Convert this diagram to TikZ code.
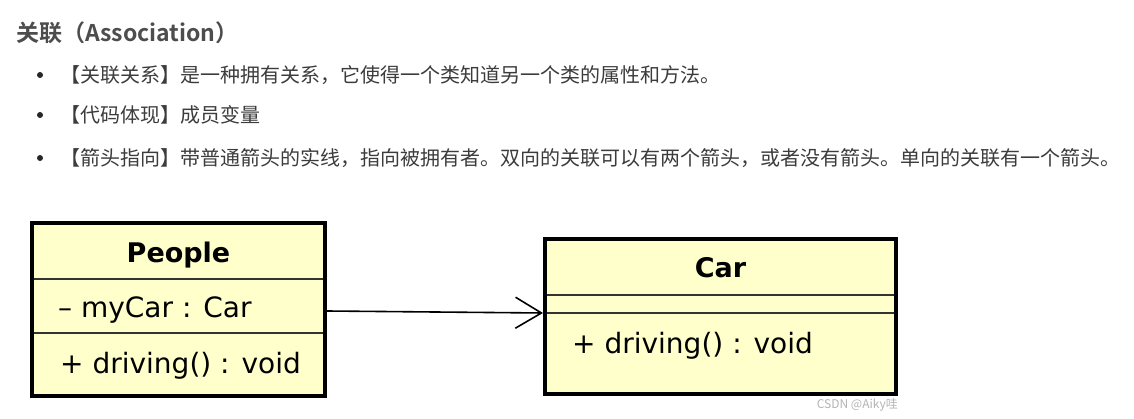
\documentclass[tikz,border=0pt]{standalone}
\usepackage{fontspec}
\usetikzlibrary{arrows.meta}
\newfontfamily\cjk{Noto Sans CJK SC}[BoldFont={Noto Sans CJK SC Bold}]
\newfontfamily\umlfont{DejaVu Sans}
\definecolor{umlfill}{RGB}{255,255,204}
\definecolor{txtgray}{RGB}{60,60,60}
\definecolor{hdrgray}{RGB}{77,77,77}
\definecolor{wmgray}{RGB}{180,180,180}
\tikzset{
  umlbox/.style={draw=black, line width=4pt, fill=umlfill, inner sep=0pt},
  divider/.style={draw=black!80, line width=1.5pt},
  umltext/.style={font=\umlfont\fontsize{28}{32}\selectfont, inner sep=0pt},
  umltitle/.style={font=\umlfont\bfseries\fontsize{27}{32}\selectfont, inner sep=0pt},
  bodytext/.style={font=\cjk\fontsize{20}{24}\selectfont, text=txtgray, inner sep=0pt, anchor=west},
  bulletdot/.style={circle, fill=black!85, inner sep=0pt, minimum size=6pt},
  assoc/.style={draw=black, line width=1.6pt, -{Straight Barb[length=26pt,width=31pt,line width=1.6pt]}}
}
\begin{document}
\begin{tikzpicture}[x=1pt,y=-1pt]
\useasboundingbox[fill=white] (0,0) rectangle (1134,419);
% header
\node[font=\cjk\bfseries\fontsize{23}{27}\selectfont, text=hdrgray, inner sep=0pt, anchor=west] (hdr) at (16,33) {关联（Association）};
% bullets
\node[bulletdot] (b1) at (40,75) {};
\node[bulletdot] (b2) at (40,115) {};
\node[bulletdot] (b3) at (40,158) {};
\node[bodytext] (t1) at (60,75) {【关联关系】是一种拥有关系，它使得一个类知道另一个类的属性和方法。};
\node[bodytext] (t2) at (60,115) {【代码体现】成员变量};
\node[bodytext] (t3) at (60,158) {【箭头指向】带普通箭头的实线，指向被拥有者。双向的关联可以有两个箭头，或者没有箭头。单向的关联有一个箭头。};
% People class
\node[umlbox, minimum width=293pt, minimum height=173pt] (people) at (178.5,309.5) {};
\draw[divider] (34,279) -- (323,279);
\draw[divider] (34,333) -- (323,333);
\node[umltitle, anchor=base] (ptitle) at (178.5,263) {People};
\node[umltext, anchor=base west] (pattr) at (58,317) {– myCar : Car};
\node[umltext, anchor=base west] (pmeth) at (60,373) {+ driving() : void};
% Car class
\node[umlbox, minimum width=351pt, minimum height=155pt] (car) at (720.5,316.5) {};
\draw[divider] (547,295) -- (894,295);
\draw[divider] (547,313) -- (894,313);
\node[umltitle, anchor=base] (ctitle) at (720.5,278) {Car};
\node[umltext, anchor=base west] (cmeth) at (572,353) {+ driving() : void};
% association
\draw[assoc] ([yshift=-1.5pt]people.east) -- ([yshift=3.5pt]car.west);
% watermark
\node[font=\cjk\fontsize{12}{14}\selectfont, text=wmgray, inner sep=0pt, anchor=base east] (wm) at (898,408) {CSDN @Aiky哇};
\end{tikzpicture}
\end{document}
